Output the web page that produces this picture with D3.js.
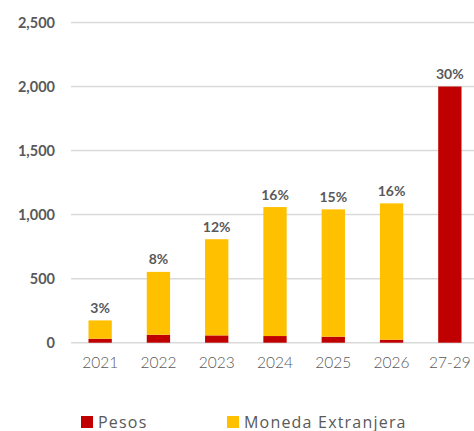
<!DOCTYPE html>
<html>
<head>
<meta charset="utf-8">
<script src="https://cdn.jsdelivr.net/npm/d3@7"></script>
<style>
  body { margin: 0; background: #fff; }
  svg { display: block; }
</style>
</head>
<body>
<svg id="chart"></svg>
<script>
// values
let periods = ["2021", "2022", "2023", "2024", "2025", "2026", "27-29"];
let pesos = [31, 62, 57, 52, 47, 23, 2000];
let monedaExtranjera = [143, 491, 751, 1007, 994, 1065, 0];
let pctLabels = ["3%", "8%", "12%", "16%", "15%", "16%", "30%"];
let yTicks = [0, 500, 1000, 1500, 2000, 2500];
let seriesNames = ["Pesos", "Moneda Extranjera"];
let seriesColors = ["#C00000", "#FFC000"];

let width = 474, height = 431;
let margin = {top: 22.5, right: -5, bottom: 88.3, left: 71};

let svg = d3.select("#chart")
    .attr("width", width)
    .attr("height", height);

let x = d3.scaleBand()
    .domain(periods)
    .range([margin.left, width - margin.right])
    .paddingInner(0.6)
    .paddingOuter(0.3);

let y = d3.scaleLinear()
    .domain([0, 2500])
    .range([height - margin.bottom, margin.top]);

// gridlines
svg.append("g")
    .selectAll("line")
    .data(yTicks)
    .join("line")
    .attr("x1", margin.left)
    .attr("x2", width)
    .attr("y1", d => y(d))
    .attr("y2", d => y(d))
    .attr("stroke", "#d9d9d9")
    .attr("stroke-width", 1.5);

// y axis labels
let yAxis = svg.append("g")
    .attr("transform", "translate(" + margin.left + ",0)")
    .call(d3.axisLeft(y).tickValues(yTicks).tickFormat(d3.format(",")).tickSize(0).tickPadding(16));
yAxis.select(".domain").remove();
yAxis.selectAll("text")
    .attr("fill", "#595959")
    .attr("font-family", "Lato, sans-serif")
    .attr("font-weight", "bold")
    .attr("font-size", "14.5px");

// x axis labels
let xAxis = svg.append("g")
    .attr("transform", "translate(0," + y(0) + ")")
    .call(d3.axisBottom(x).tickSize(0).tickPadding(14));
xAxis.select(".domain").remove();
xAxis.selectAll("text")
    .attr("fill", "#595959")
    .attr("font-family", "Lato, sans-serif")
    .attr("font-weight", 300)
    .attr("font-size", "15.5px");

// stacked bars
let rows = periods.map((p, i) => ({period: p, pesos: pesos[i], moneda: monedaExtranjera[i]}));
let stack = d3.stack().keys(["pesos", "moneda"]);
let layers = stack(rows);

svg.append("g")
    .selectAll("g")
    .data(layers)
    .join("g")
    .attr("fill", (d, i) => seriesColors[i])
    .selectAll("rect")
    .data(d => d.filter(s => s[1] > s[0]))
    .join("rect")
    .attr("x", d => x(d.data.period))
    .attr("width", x.bandwidth())
    .attr("y", d => y(d[1]))
    .attr("height", d => y(d[0]) - y(d[1]));

// percent labels on top
svg.append("g")
    .selectAll("text")
    .data(rows)
    .join("text")
    .attr("x", d => x(d.period) + x.bandwidth() / 2)
    .attr("y", (d, i) => y(d.pesos + d.moneda) - 7.5)
    .attr("text-anchor", "middle")
    .attr("fill", "#595959")
    .attr("font-family", "Lato, sans-serif")
    .attr("font-weight", "bold")
    .attr("font-size", "14px")
    .text((d, i) => pctLabels[i]);

// legend
let legendX = [81, 227];
let legend = svg.append("g")
    .selectAll("g")
    .data(seriesNames)
    .join("g")
    .attr("transform", (d, i) => "translate(" + legendX[i] + ",416)");
legend.append("rect")
    .attr("width", 12)
    .attr("height", 12)
    .attr("fill", (d, i) => seriesColors[i]);
legend.append("text")
    .attr("x", 17)
    .attr("y", 11.5)
    .attr("fill", "#595959")
    .attr("font-family", "'Open Sans', sans-serif")
    .attr("font-size", "16px")
    .attr("letter-spacing", "1.2px")
    .text(d => d);
</script>
</body>
</html>
